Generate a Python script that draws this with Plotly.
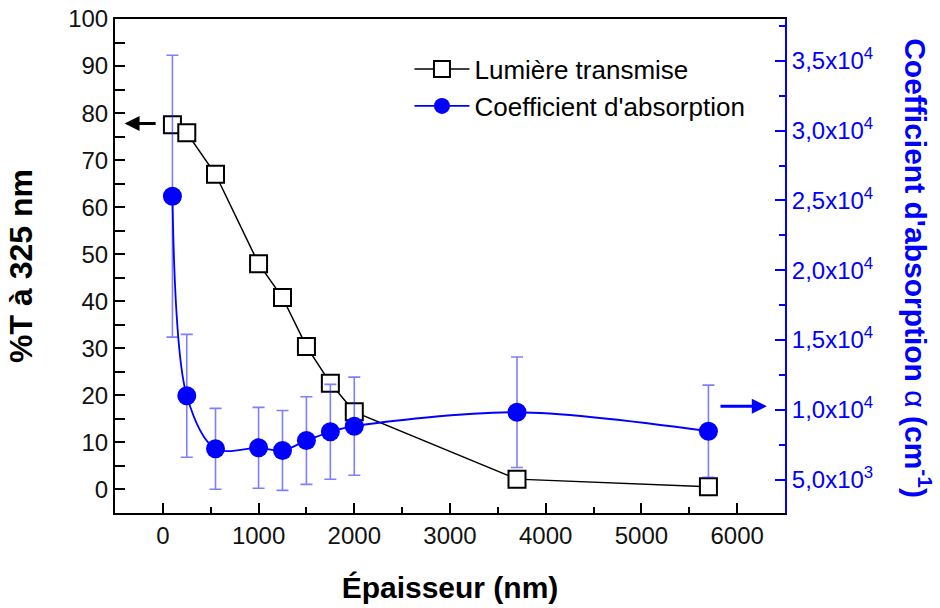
import plotly.graph_objects as go

# épaisseur des couches (nm)
epaisseur = [100, 250, 550, 1000, 1250, 1500, 1750, 2000, 3700, 5700]
# lumière transmise, % T à 325 nm
transmission = [77.5, 75.8, 67.0, 48.0, 40.8, 30.4, 22.6, 16.5, 2.2, 0.6]
# coefficient d'absorption (cm-1) + barres d'erreur
absorption = [25300, 11000, 7200, 7270, 7080, 7790, 8420, 8820, 9820, 8460]
abs_err = [10100, 4400, 2900, 2900, 2860, 3140, 3400, 3520, 3960, 3300]

# axe de droite
alpha_ticks = [5000, 10000, 15000, 20000, 25000, 30000, 35000]
alpha_labels = ["5,0x10<sup>3</sup>", "1,0x10<sup>4</sup>", "1,5x10<sup>4</sup>",
                "2,0x10<sup>4</sup>", "2,5x10<sup>4</sup>", "3,0x10<sup>4</sup>",
                "3,5x10<sup>4</sup>"]

FONT = "Arial, Liberation Sans, sans-serif"
BLUE = "#0000ff"

fig = go.Figure()

fig.add_trace(go.Scatter(
    x=epaisseur, y=transmission, name="Lumière transmise",
    mode="lines+markers",
    line=dict(color="black", width=1.5),
    marker=dict(symbol="square", size=17, color="white",
                line=dict(color="black", width=2)),
))

fig.add_trace(go.Scatter(
    x=epaisseur, y=absorption, name="Coefficient d'absorption",
    yaxis="y2", mode="lines+markers",
    line=dict(color=BLUE, width=1.8, shape="spline", smoothing=0.9),
    marker=dict(symbol="circle", size=19, color=BLUE),
    error_y=dict(type="data", array=abs_err, color="rgba(40,40,255,0.6)",
                 thickness=1.6, width=6),
))

fig.update_layout(
    width=940, height=608,
    margin=dict(l=115, r=155, t=19, b=95),
    paper_bgcolor="white", plot_bgcolor="white",
    font=dict(family=FONT, size=24, color="#111"),
    xaxis=dict(
        range=[-500, 6500], tick0=0, dtick=1000, automargin=False,
        ticks="inside", ticklen=10, tickwidth=2, tickcolor="black",
        minor=dict(ticks="inside", ticklen=6, tickwidth=2, dtick=500,
                   tick0=0, tickcolor="black"),
        showline=True, linewidth=2, linecolor="black", mirror=True,
        showgrid=False, zeroline=False,
        tickfont=dict(size=24, color="#111"),
        title=dict(text="<b>Épaisseur (nm)</b>", font=dict(size=30, color="black"),
                   standoff=29),
    ),
    yaxis=dict(
        range=[-5, 100], tick0=0, dtick=10, automargin=False,
        ticks="inside", ticklen=10, tickwidth=2, tickcolor="black",
        minor=dict(ticks="inside", ticklen=10, tickwidth=2, dtick=5,
                   tick0=0, tickcolor="black"),
        showline=True, linewidth=2, linecolor="black",
        showgrid=False, zeroline=False,
        tickfont=dict(size=24, color="#111"),
        title=dict(text="<b>%T à 325 nm</b>", font=dict(size=32, color="black"),
                   standoff=26),
    ),
    yaxis2=dict(
        overlaying="y", side="right", range=[2600, 38000], automargin=False,
        tickmode="array", tickvals=alpha_ticks, ticktext=alpha_labels,
        ticks="inside", ticklen=10, tickwidth=2, tickcolor=BLUE,
        minor=dict(ticks="inside", ticklen=6, tickwidth=2, dtick=2500,
                   tick0=0, tickcolor=BLUE),
        tickfont=dict(color=BLUE, size=24),
        showline=True, linewidth=2, linecolor=BLUE,
        showgrid=False, zeroline=False,
    ),
    legend=dict(x=0.4395, y=0.946, xanchor="left", yanchor="top",
                bgcolor="rgba(0,0,0,0)", font=dict(size=26, color="black"),
                itemwidth=55, tracegroupgap=0),
    showlegend=True,
)

# flèches indiquant l'axe de chaque courbe
fig.add_annotation(x=-400, y=77.8, ax=-60, ay=77.8, xref="x", yref="y",
                   axref="x", ayref="y", text="", showarrow=True,
                   arrowhead=2, arrowsize=1, arrowwidth=3, arrowcolor="black")
fig.add_annotation(x=6310, y=10250, ax=5810, ay=10250, xref="x", yref="y2",
                   axref="x", ayref="y2", text="", showarrow=True,
                   arrowhead=2, arrowsize=1, arrowwidth=3, arrowcolor=BLUE)

# titre de l'axe de droite (lu de haut en bas)
fig.add_annotation(x=1.1975, y=0.495, xref="paper", yref="paper",
                   xanchor="center", yanchor="middle",
                   text="<b>Coefficient d'absorption</b> α <b>(cm<sup>-1</sup>)</b>",
                   textangle=90, showarrow=False,
                   font=dict(size=30, color=BLUE, family=FONT))

# pas de marge de page : le graphique remplit la fenêtre
fig.write_html("out.html", config={"displayModeBar": False},
               post_script="document.body.style.margin='0';")
